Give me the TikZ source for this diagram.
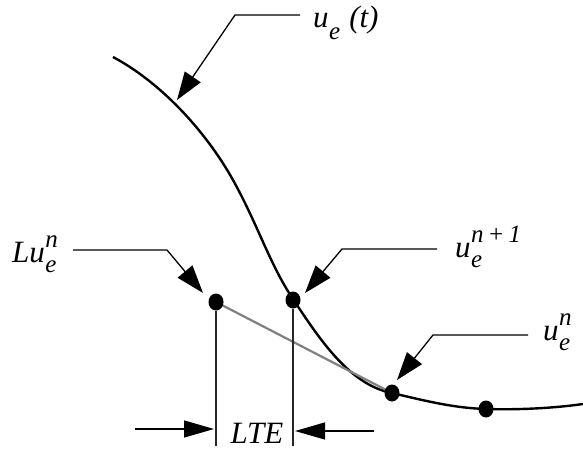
\documentclass[tikz,border=0pt]{standalone}
\usepackage{fontspec}
\setmainfont{Liberation Serif}
\usetikzlibrary{arrows.meta,shapes.geometric}
\newcommand{\scr}[1]{{\fontsize{25}{26}\selectfont #1}}
\newcommand{\ssp}[3]{#1\kern0.5pt\rlap{\raisebox{-10pt}{\scr{#2}}}\raisebox{15pt}{\scr{#3}}}
\newcommand{\ssb}[2]{#1\kern0.5pt\raisebox{-12pt}{\scr{#2}}}
\begin{document}
\begin{tikzpicture}[x=1pt,y=-1pt,
  dotn/.style={ellipse,fill=black,minimum width=15pt,minimum height=17pt,inner sep=0pt},
  lbl/.style={anchor=base west,inner sep=0pt,font=\fontsize{31}{33}\selectfont\itshape},
  leader/.style={line width=1.3pt,-{Triangle[length=28pt,width=19pt]}},
  dim/.style={line width=1.3pt,-{Triangle[length=30pt,width=17pt]}},
  ext/.style={line width=1.1pt,black!85},
  curve/.style={line width=2.4pt}]
\useasboundingbox (0,0) rectangle (583,449);
% curve
\draw[curve] (113,57) .. controls (160,82) and (205,130) .. (233,180)
  .. controls (258,225) and (270,265) .. (293,299)
  .. controls (320,340) and (350,385) .. (392,393)
  .. controls (430,402) and (455,408) .. (486,409)
  .. controls (520,410) and (555,408) .. (583,404);
% gray secant
\draw[line width=2.2pt,black!50] (216,302) -- (392,393);
% dots
\node[dotn] (Lu) at (216,302) {};
\node[dotn] (u1) at (293,300) {};
\node[dotn] (u0) at (392,393) {};
\node[dotn] (u2) at (486,409) {};
% extension lines
\coordinate (Lb) at (216,446);
\coordinate (ub) at (293,446);
\draw[ext] (Lu.south) -- (Lb);
\draw[ext] (u1.south) -- (ub);
% labels
\node[lbl] (lt) at (313,28) {\ssb{u}{e}\kern9pt(t)};
\node[lbl] (lLu) at (12,262) {L\ssp{u}{e}{n}};
\node[lbl] (lu1) at (455,257) {\ssp{u}{e}{n\kern4pt+\kern4pt1}};
\node[lbl] (lu0) at (543,340) {\ssp{u}{e}{n}};
\node[lbl,anchor=base] (lte) at (257,443) {LTE};
% leaders
\coordinate (t1) at (300,15); \coordinate (t2) at (235,15); \coordinate (t3) at (177,100);
\draw[leader] (t1) -- (t2) -- (t3);
\coordinate (a1) at (73,250); \coordinate (a2) at (167,250); \coordinate (a3) at (203,293);
\draw[leader] (a1) -- (a2) -- (a3);
\coordinate (b1) at (437,249); \coordinate (b2) at (342,249); \coordinate (b3) at (305,293);
\draw[leader] (b1) -- (b2) -- (b3);
\coordinate (c1) at (528,335); \coordinate (c2) at (433,335); \coordinate (c3) at (397,380);
\draw[leader] (c1) -- (c2) -- (c3);
% dimension arrows
\coordinate (d1) at (135,429); \coordinate (d2) at (214,429);
\coordinate (e1) at (374,431); \coordinate (e2) at (295,431);
\draw[dim] (d1) -- (d2);
\draw[dim] (e1) -- (e2);
\end{tikzpicture}
\end{document}
